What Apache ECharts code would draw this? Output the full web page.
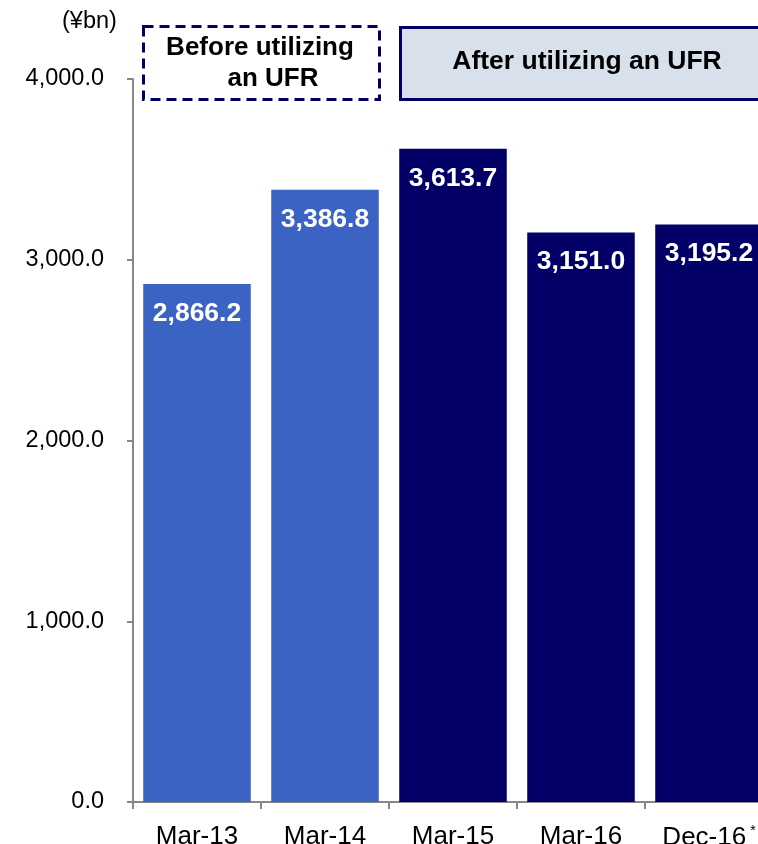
<!DOCTYPE html>
<html>
<head>
<meta charset="utf-8">
<script src="https://cdn.jsdelivr.net/npm/echarts@6/dist/echarts.min.js"></script>
<style>
  html, body { margin: 0; padding: 0; background: #fff; overflow: hidden; }
  /* 画布比窗口大，右边最后一根柱子被截掉，和原图一致 */
  #chart { width: 800px; height: 870px; }
</style>
</head>
<body>
<div id="chart"></div>
<script>
// 数据
const categories = ['Mar-13', 'Mar-14', 'Mar-15', 'Mar-16', 'Dec-16']
const values = [2866.2, 3386.8, 3613.7, 3151.0, 3195.2]
const beforeUfr = [true, true, false, false, false] // 前两根浅蓝
const yTicks = [0, 1000, 2000, 3000, 4000]

const LIGHT = '#3a63c4'
const NAVY = '#020066'
const FONT = 'Liberation Sans, Arial, sans-serif'

const fmt = (v) => v.toLocaleString('en-US', { minimumFractionDigits: 1, maximumFractionDigits: 1 })

const myChart = echarts.init(document.getElementById('chart'))

const option = {
  animation: false,
  grid: { left: 133, top: 79, width: 640, height: 723, containLabel: false, outerBoundsMode: 'none' },
  xAxis: {
    type: 'category',
    data: categories,
    axisLine: { lineStyle: { color: '#888', width: 2 } },
    axisTick: { show: true, length: 7, lineStyle: { color: '#888', width: 2 } },
    axisLabel: {
      interval: 0,
      color: '#000',
      fontFamily: FONT,
      fontSize: 26,
      margin: 22,
      formatter: (v) => v === 'Dec-16' ? v + '{s|*}' : v,
      rich: { s: { fontSize: 14, verticalAlign: 'top', padding: [0, 0, 14, 4], color: '#000' } }
    }
  },
  yAxis: {
    type: 'value',
    min: yTicks[0],
    max: yTicks[yTicks.length - 1],
    interval: 1000,
    splitLine: { show: false },
    axisLine: { show: true, lineStyle: { color: '#888', width: 2 } },
    axisTick: { show: true, length: 6, lineStyle: { color: '#888', width: 2 } },
    axisLabel: {
      color: '#000',
      fontFamily: FONT,
      fontSize: 23.5,
      margin: 29,
      formatter: (v) => fmt(v)
    }
  },
  graphic: [
    // 单位
    {
      type: 'text', left: 62, top: 10,
      style: { text: '(¥bn)', fill: '#000', font: '23.5px ' + FONT }
    },
    // Before 虚线框
    {
      type: 'rect', left: 142, top: 25,
      shape: { width: 236, height: 73 },
      style: { fill: '#fff', stroke: NAVY, lineWidth: 3, lineDash: [10, 6] }
    },
    {
      type: 'text', x: 260, y: 48,
      style: { text: 'Before utilizing', fill: '#000', font: 'bold 26px ' + FONT, align: 'center', verticalAlign: 'middle' }
    },
    {
      type: 'text', x: 273, y: 79,
      style: { text: 'an UFR', fill: '#000', font: 'bold 26px ' + FONT, align: 'center', verticalAlign: 'middle' }
    },
    // After 实线框
    {
      type: 'rect', left: 399, top: 26,
      shape: { x: 0, y: 0, width: 378, height: 72 },
      style: { fill: '#d8e0ec', stroke: NAVY, lineWidth: 3 }
    },
    {
      type: 'text', x: 587, y: 62,
      style: { text: 'After utilizing an UFR', fill: '#000', font: 'bold 26.5px ' + FONT, align: 'center', verticalAlign: 'middle' }
    }
  ],
  series: [
    {
      type: 'bar',
      barCategoryGap: '16%',
      data: values.map((v, i) => ({
        value: v,
        itemStyle: { color: beforeUfr[i] ? LIGHT : NAVY }
      })),
      label: {
        show: true,
        position: 'insideTop',
        distance: 16,
        color: '#fff',
        fontFamily: FONT,
        fontWeight: 'bold',
        fontSize: 26.5,
        formatter: (p) => fmt(p.value)
      }
    }
  ]
}

myChart.setOption(option)
</script>
</body>
</html>
